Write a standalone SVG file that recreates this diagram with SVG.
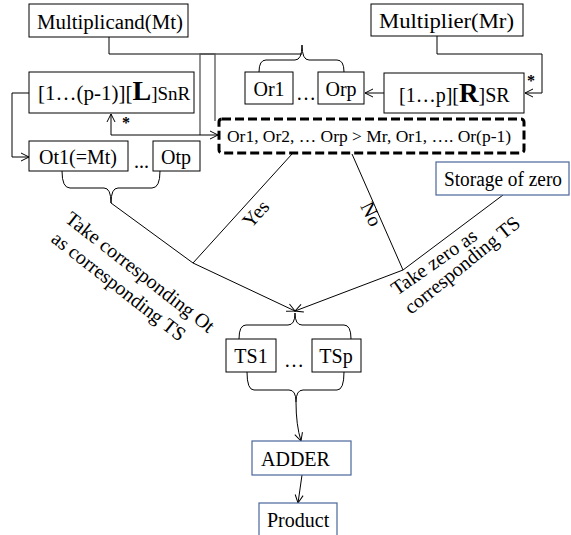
<svg xmlns="http://www.w3.org/2000/svg" width="571" height="535" viewBox="0 0 571 535" font-family="'Liberation Serif', 'DejaVu Serif', 'Times New Roman', serif">
<style>
text{font-family:'Liberation Serif','DejaVu Serif','Times New Roman',serif;fill:#000}
.box{fill:#fff;stroke:#000;stroke-width:1}
.bbox{fill:#fff;stroke:#4a659c;stroke-width:1.2}
.ln{fill:none;stroke:#000;stroke-width:1}
.t{font-size:20px}
.m{font-size:20px;text-anchor:middle}
.r{font-size:20px}
</style>
<defs>
<marker id="a" markerWidth="10" markerHeight="10" refX="9" refY="5" orient="auto" markerUnits="userSpaceOnUse">
<path d="M1,1 L9,5 L1,9" fill="none" stroke="#000" stroke-width="1"/>
</marker>
</defs>
<rect width="571" height="535" fill="#fff"/>
<g id="connectors">
<path class="ln" d="M109,37 V54 H302"/>
<path d="M200,135 V54 H215 V121" fill="none" stroke="#555" stroke-width="1.3"/>
<path class="ln" d="M259,72 Q259,60 266,60 H295 Q302,60 302,45 M344,72 Q344,60 337,60 H309 Q302,60 302,45"/>
<path class="ln" d="M437,36 V54 H542 V93 H525" marker-end="url(#a)"/>
<path class="ln" d="M384,93 H365" marker-end="url(#a)"/>
<path class="ln" d="M29,93 H12 V157 H29" marker-end="url(#a)"/>
<path class="ln" d="M111,135 V114" marker-end="url(#a)"/>
<path class="ln" d="M111,135 H218" marker-end="url(#a)"/>
<path class="ln" d="M62,171 Q62,188 70,188 H104 Q111,188 111,203 M160,171 Q160,188 152,188 H118 Q111,188 111,203"/>
<path class="ln" d="M111,203 L193,263"/>
<path class="ln" d="M292,154 L193,263"/>
<path class="ln" d="M193,263 L295,311" marker-end="url(#a)"/>
<path class="ln" d="M352,154 L403,270"/>
<path class="ln" d="M503,195 L403,270"/>
<path class="ln" d="M403,270 L295,311" marker-end="url(#a)"/>
<path class="ln" d="M239,339 Q239,325 246,325 H288 Q295,325 295,313 M351,339 Q351,325 344,325 H302 Q295,325 295,313"/>
<path class="ln" d="M247,372 Q247,390 254,390 H289 Q296,390 296,402 M344,372 Q344,390 337,390 H303 Q296,390 296,402"/>
<path class="ln" d="M296,402 Q296,425 301,441" marker-end="url(#a)"/>
<path class="ln" d="M302,475 L298,503" marker-end="url(#a)"/>
</g>
<g id="multiplicand">
<rect class="box" x="29" y="4" width="159" height="33"/>
<text class="t" x="37" y="29" textLength="146" lengthAdjust="spacingAndGlyphs">Multiplicand(Mt)</text>
</g>
<g id="multiplier">
<rect class="box" x="371" y="4" width="152" height="32"/>
<text class="t" x="379" y="28" textLength="135" lengthAdjust="spacingAndGlyphs">Multiplier(Mr)</text>
</g>
<g id="lsnr">
<rect class="box" x="29" y="72" width="165" height="41"/>
<text x="38" y="100" font-size="21">[1…(p-1)][<tspan font-weight="bold" font-size="28">L</tspan><tspan font-size="19">]SnR</tspan></text>
<text x="122" y="128" font-size="16" font-weight="bold">*</text>
</g>
<g id="rsr">
<rect class="box" x="384" y="73" width="140" height="40"/>
<text x="399" y="102" font-size="20">[1…p][<tspan font-weight="bold" font-size="27">R</tspan>]SR</text>
<text x="527" y="86" font-size="16" font-weight="bold">*</text>
</g>
<g id="or1">
<rect class="box" x="245" y="72" width="48" height="32"/>
<text class="m" x="269" y="96">Or1</text>
</g>
<text class="t" x="296" y="100">…</text>
<g id="orp">
<rect class="box" x="318" y="72" width="46" height="32"/>
<text class="m" x="341" y="96">Orp</text>
</g>
<g id="compare">
<rect x="219" y="119" width="305" height="34" rx="3" fill="#fff" stroke="#000" stroke-width="3" stroke-dasharray="9,4"/>
<text x="227" y="142" font-size="17" textLength="284" lengthAdjust="spacingAndGlyphs">Or1, Or2, … Orp &gt; Mr, Or1, …. Or(p-1)</text>
</g>
<g id="ot1">
<rect class="box" x="29" y="141" width="99" height="30"/>
<text class="m" x="78" y="164">Ot1(=Mt)</text>
</g>
<text class="t" x="134" y="168">...</text>
<g id="otp">
<rect class="box" x="153" y="141" width="47" height="30"/>
<text class="m" x="176" y="164">Otp</text>
</g>
<g id="storage">
<rect class="bbox" x="436" y="162" width="133" height="33"/>
<text class="t" x="444" y="186" textLength="118" lengthAdjust="spacingAndGlyphs">Storage of zero</text>
</g>
<g id="labels">
<text class="r" transform="translate(64,221) rotate(38)">Take corresponding Ot</text>
<text class="r" transform="translate(50,241) rotate(38)">as corresponding TS</text>
<text class="r" transform="translate(251,229) rotate(-48)">Yes</text>
<text class="r" transform="translate(360,206) rotate(64)">No</text>
<text class="r" transform="translate(397,296) rotate(-35)">Take zero as</text>
<text class="r" transform="translate(411,315) rotate(-39)">corresponding TS</text>
</g>
<g id="ts1">
<rect class="box" x="226" y="339" width="50" height="33"/>
<text class="m" x="251" y="363">TS1</text>
</g>
<text class="t" x="284" y="367">…</text>
<g id="tsp">
<rect class="box" x="312" y="339" width="49" height="33"/>
<text class="m" x="336" y="363">TSp</text>
</g>
<g id="adder">
<rect class="bbox" x="252" y="441" width="99" height="34"/>
<text class="t" x="261" y="466">ADDER</text>
</g>
<g id="product">
<rect class="bbox" x="259" y="503" width="78" height="40"/>
<text class="t" x="267" y="527">Product</text>
</g>
</svg>
